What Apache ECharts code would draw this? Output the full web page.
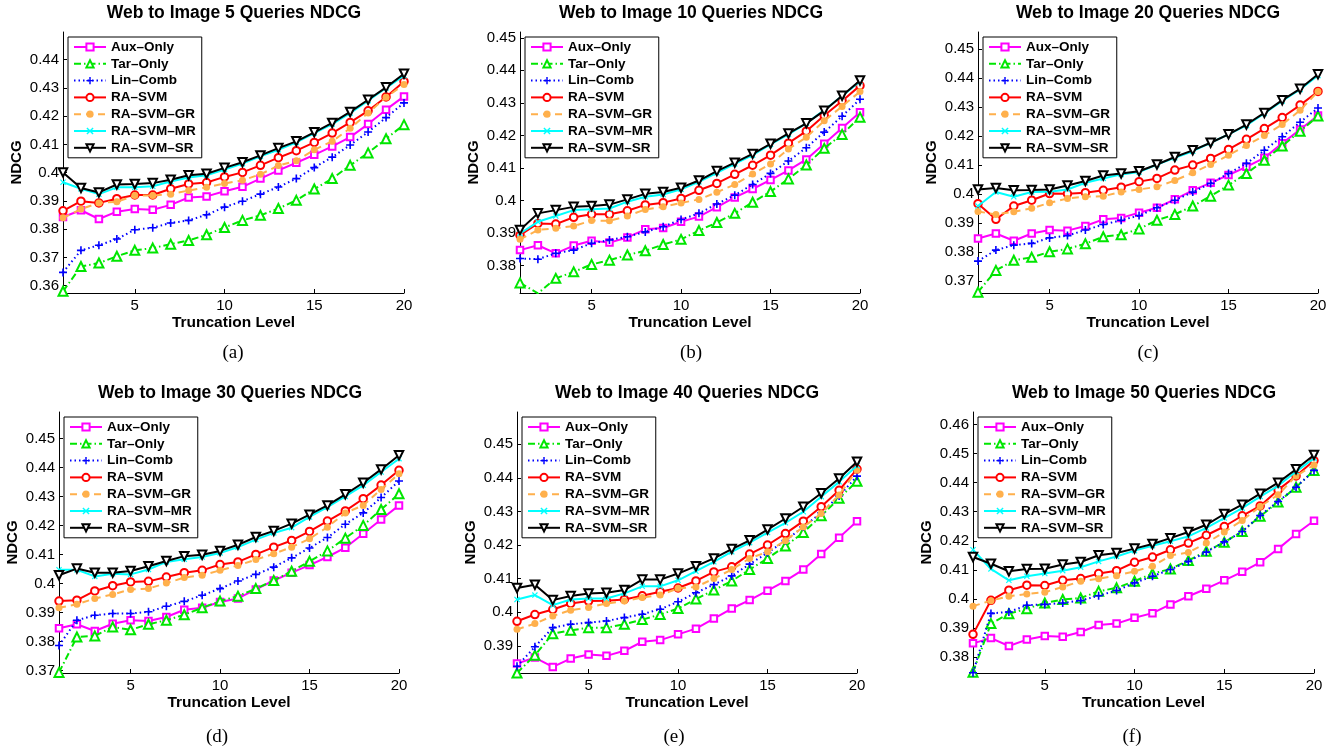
<!DOCTYPE html>
<html>
<head>
<meta charset="utf-8">
<script src="https://cdn.jsdelivr.net/npm/echarts@6/dist/echarts.min.js"></script>
<style>html,body{margin:0;padding:0;background:#fff;}#c{width:1342px;height:754px;}</style>
</head>
<body>
<div id="c"></div>
<script>
// ---------- DATA ----------
const truncation = [1,2,3,4,5,6,7,8,9,10,11,12,13,14,15,16,17,18,19,20];
const seriesNames = ['Aux–Only','Tar–Only','Lin–Comb','RA–SVM','RA–SVM–GR','RA–SVM–MR','RA–SVM–SR'];
const queryCounts = [5,10,20,30,40,50];
const captions = ['(a)','(b)','(c)','(d)','(e)','(f)'];
const xTickValues = [5,10,15,20];
const yTicks_5  = [0.36,0.37,0.38,0.39,0.4,0.41,0.42,0.43,0.44];
const yTicks_10 = [0.38,0.39,0.4,0.41,0.42,0.43,0.44,0.45];
const yTicks_20 = [0.37,0.38,0.39,0.4,0.41,0.42,0.43,0.44,0.45];
const yTicks_30 = [0.37,0.38,0.39,0.4,0.41,0.42,0.43,0.44,0.45];
const yTicks_40 = [0.39,0.4,0.41,0.42,0.43,0.44,0.45];
const yTicks_50 = [0.38,0.39,0.4,0.41,0.42,0.43,0.44,0.45,0.46];
const yRange_5  = [0.3574, 0.4498];
const yRange_10 = [0.3715, 0.4518];
const yRange_20 = [0.3659, 0.4559];
const yRange_30 = [0.3692, 0.4592];
const yRange_40 = [0.3819, 0.4596];
const yRange_50 = [0.3745, 0.4643];

// 5 queries
const q5_aux = [0.3843,0.3867,0.3836,0.3862,0.3871,0.3869,0.3886,0.3912,0.3916,0.3934,0.3950,0.3979,0.4008,0.4035,0.4063,0.4093,0.4126,0.4172,0.4223,0.4270];
const q5_tar = [0.3580,0.3668,0.3680,0.3704,0.3725,0.3733,0.3747,0.3760,0.3780,0.3806,0.3831,0.3849,0.3873,0.3902,0.3942,0.3979,0.4026,0.4070,0.4120,0.4170];
const q5_lin = [0.3647,0.3725,0.3743,0.3765,0.3798,0.3805,0.3822,0.3831,0.3851,0.3878,0.3899,0.3924,0.3949,0.3979,0.4018,0.4055,0.4098,0.4144,0.4195,0.4247];
const q5_ra  = [0.3865,0.3899,0.3893,0.3908,0.3921,0.3921,0.3943,0.3960,0.3965,0.3985,0.4001,0.4026,0.4053,0.4078,0.4107,0.4140,0.4178,0.4219,0.4268,0.4323];
const q5_gr  = [0.3840,0.3871,0.3893,0.3897,0.3919,0.3919,0.3924,0.3937,0.3948,0.3962,0.3973,0.3994,0.4025,0.4042,0.4081,0.4111,0.4157,0.4211,0.4267,0.4312];
const q5_mr  = [0.3966,0.3943,0.3924,0.3948,0.3948,0.3952,0.3969,0.3983,0.3991,0.4011,0.4032,0.4058,0.4081,0.4107,0.4140,0.4172,0.4211,0.4255,0.4300,0.4343];
const q5_sr  = [0.4001,0.3946,0.3930,0.3958,0.3960,0.3963,0.3975,0.3991,0.3996,0.4017,0.4037,0.4061,0.4087,0.4111,0.4143,0.4176,0.4215,0.4258,0.4302,0.4350];
// 10 queries
const q10_aux = [0.3847,0.3862,0.3837,0.3861,0.3876,0.3870,0.3886,0.3911,0.3915,0.3934,0.3950,0.3979,0.4009,0.4035,0.4063,0.4092,0.4126,0.4174,0.4223,0.4271];
const q10_tar = [0.3746,0.3714,0.3760,0.3780,0.3803,0.3816,0.3832,0.3845,0.3864,0.3880,0.3907,0.3932,0.3960,0.3994,0.4027,0.4066,0.4109,0.4160,0.4203,0.4256];
const q10_lin = [0.3821,0.3819,0.3837,0.3847,0.3868,0.3878,0.3888,0.3903,0.3919,0.3941,0.3960,0.3989,0.4016,0.4049,0.4083,0.4121,0.4162,0.4210,0.4259,0.4311];
const q10_ra  = [0.3893,0.3929,0.3927,0.3948,0.3957,0.3957,0.3968,0.3986,0.3993,0.4006,0.4031,0.4052,0.4080,0.4108,0.4139,0.4176,0.4213,0.4261,0.4306,0.4353];
const q10_gr  = [0.3880,0.3909,0.3914,0.3921,0.3938,0.3937,0.3952,0.3972,0.3980,0.3992,0.4003,0.4025,0.4049,0.4081,0.4112,0.4158,0.4194,0.4245,0.4289,0.4335];
const q10_mr  = [0.3898,0.3934,0.3952,0.3970,0.3973,0.3975,0.3996,0.4011,0.4018,0.4034,0.4057,0.4085,0.4112,0.4139,0.4172,0.4203,0.4237,0.4278,0.4321,0.4366];
const q10_sr  = [0.3909,0.3960,0.3970,0.3980,0.3983,0.3987,0.4003,0.4020,0.4026,0.4039,0.4061,0.4090,0.4116,0.4143,0.4174,0.4206,0.4237,0.4276,0.4322,0.4369];
// 20 queries
const q20_aux = [0.3847,0.3864,0.3839,0.3864,0.3876,0.3874,0.3890,0.3913,0.3918,0.3936,0.3953,0.3982,0.4013,0.4039,0.4066,0.4094,0.4125,0.4175,0.4223,0.4271];
const q20_tar = [0.3662,0.3737,0.3772,0.3782,0.3801,0.3811,0.3829,0.3853,0.3860,0.3880,0.3910,0.3930,0.3959,0.3993,0.4031,0.4071,0.4117,0.4166,0.4217,0.4269];
const q20_lin = [0.3769,0.3807,0.3824,0.3830,0.3849,0.3857,0.3876,0.3895,0.3910,0.3926,0.3953,0.3979,0.4007,0.4037,0.4071,0.4106,0.4151,0.4198,0.4248,0.4297];
const q20_ra  = [0.3967,0.3913,0.3959,0.3979,0.4002,0.4001,0.4005,0.4013,0.4024,0.4043,0.4054,0.4083,0.4100,0.4123,0.4154,0.4189,0.4226,0.4264,0.4307,0.4354];
const q20_gr  = [0.3940,0.3930,0.3939,0.3951,0.3970,0.3985,0.3991,0.3993,0.4007,0.4016,0.4025,0.4047,0.4074,0.4102,0.4134,0.4168,0.4202,0.4240,0.4289,0.4354];
const q20_mr  = [0.3959,0.4007,0.3991,0.4007,0.4008,0.4016,0.4039,0.4054,0.4068,0.4076,0.4102,0.4125,0.4148,0.4177,0.4206,0.4237,0.4278,0.4321,0.4361,0.4409];
const q20_sr  = [0.4016,0.4021,0.4013,0.4014,0.4016,0.4030,0.4045,0.4064,0.4071,0.4079,0.4102,0.4128,0.4151,0.4177,0.4206,0.4240,0.4280,0.4324,0.4363,0.4413];
// 30 queries
const q30_aux = [0.3846,0.3860,0.3837,0.3862,0.3874,0.3871,0.3885,0.3910,0.3917,0.3937,0.3949,0.3980,0.4011,0.4038,0.4064,0.4092,0.4124,0.4172,0.4221,0.4270];
const q30_tar = [0.3694,0.3816,0.3820,0.3851,0.3841,0.3860,0.3874,0.3893,0.3917,0.3940,0.3957,0.3983,0.4011,0.4043,0.4077,0.4113,0.4157,0.4201,0.4256,0.4310];
const q30_lin = [0.3787,0.3874,0.3891,0.3897,0.3897,0.3903,0.3922,0.3939,0.3960,0.3983,0.4009,0.4032,0.4057,0.4089,0.4123,0.4159,0.4205,0.4244,0.4297,0.4354];
const q30_ra  = [0.3940,0.3943,0.3975,0.3993,0.4006,0.4008,0.4023,0.4038,0.4046,0.4066,0.4075,0.4101,0.4126,0.4149,0.4180,0.4216,0.4251,0.4293,0.4340,0.4391];
const q30_gr  = [0.3917,0.3929,0.3949,0.3963,0.3980,0.3983,0.4002,0.4021,0.4029,0.4046,0.4063,0.4083,0.4103,0.4126,0.4155,0.4195,0.4244,0.4270,0.4325,0.4379];
const q30_mr  = [0.4048,0.4048,0.4025,0.4034,0.4032,0.4049,0.4075,0.4084,0.4092,0.4106,0.4126,0.4152,0.4175,0.4193,0.4230,0.4264,0.4301,0.4339,0.4385,0.4431];
const q30_sr  = [0.4029,0.4052,0.4038,0.4038,0.4044,0.4060,0.4078,0.4095,0.4100,0.4113,0.4134,0.4161,0.4182,0.4207,0.4238,0.4270,0.4308,0.4348,0.4394,0.4443];
// 40 queries
const q40_aux = [0.3847,0.3865,0.3837,0.3862,0.3874,0.3870,0.3885,0.3912,0.3917,0.3934,0.3951,0.3981,0.4011,0.4036,0.4064,0.4093,0.4127,0.4173,0.4222,0.4271];
const q40_tar = [0.3819,0.3872,0.3936,0.3946,0.3954,0.3954,0.3964,0.3978,0.3993,0.4011,0.4039,0.4066,0.4093,0.4127,0.4160,0.4197,0.4237,0.4287,0.4339,0.4390];
const q40_lin = [0.3839,0.3897,0.3954,0.3964,0.3969,0.3974,0.3984,0.3994,0.4009,0.4031,0.4058,0.4082,0.4108,0.4143,0.4177,0.4213,0.4254,0.4296,0.4346,0.4405];
const q40_ra  = [0.3973,0.3993,0.4008,0.4026,0.4033,0.4034,0.4038,0.4049,0.4061,0.4072,0.4093,0.4120,0.4135,0.4173,0.4200,0.4234,0.4271,0.4314,0.4363,0.4426];
const q40_gr  = [0.3949,0.3966,0.3989,0.4006,0.4014,0.4026,0.4033,0.4044,0.4051,0.4071,0.4075,0.4100,0.4127,0.4160,0.4180,0.4213,0.4254,0.4294,0.4349,0.4423];
const q40_mr  = [0.4038,0.4051,0.4021,0.4038,0.4041,0.4041,0.4056,0.4077,0.4077,0.4095,0.4122,0.4150,0.4180,0.4207,0.4237,0.4266,0.4299,0.4344,0.4388,0.4436];
const q40_sr  = [0.4072,0.4082,0.4036,0.4048,0.4056,0.4058,0.4066,0.4097,0.4097,0.4115,0.4137,0.4160,0.4188,0.4214,0.4246,0.4279,0.4314,0.4354,0.4398,0.4448];
// 50 queries
const q50_aux = [0.3847,0.3865,0.3838,0.3860,0.3872,0.3870,0.3886,0.3910,0.3915,0.3935,0.3951,0.3981,0.4009,0.4035,0.4064,0.4093,0.4126,0.4172,0.4223,0.4269];
const q50_tar = [0.3748,0.3915,0.3949,0.3966,0.3986,0.3998,0.4003,0.4026,0.4038,0.4061,0.4087,0.4103,0.4132,0.4164,0.4195,0.4232,0.4284,0.4333,0.4384,0.4442];
const q50_lin = [0.3746,0.3950,0.3955,0.3978,0.3981,0.3986,0.3994,0.4011,0.4029,0.4055,0.4078,0.4101,0.4129,0.4161,0.4196,0.4232,0.4287,0.4335,0.4384,0.4442];
const q50_ra  = [0.3878,0.3995,0.4030,0.4047,0.4046,0.4064,0.4070,0.4087,0.4097,0.4126,0.4144,0.4169,0.4192,0.4219,0.4249,0.4286,0.4320,0.4375,0.4423,0.4476];
const q50_gr  = [0.3975,0.3994,0.4009,0.4017,0.4023,0.4041,0.4061,0.4069,0.4080,0.4095,0.4112,0.4149,0.4160,0.4192,0.4230,0.4270,0.4318,0.4358,0.4423,0.4461];
const q50_mr  = [0.4169,0.4103,0.4064,0.4078,0.4087,0.4097,0.4109,0.4129,0.4146,0.4166,0.4183,0.4198,0.4215,0.4244,0.4278,0.4312,0.4352,0.4389,0.4438,0.4484];
const q50_sr  = [0.4144,0.4121,0.4095,0.4103,0.4104,0.4118,0.4127,0.4150,0.4158,0.4173,0.4189,0.4209,0.4230,0.4255,0.4292,0.4324,0.4362,0.4400,0.4446,0.4495];

// ---------- ASSEMBLY ----------
const panelSeries = [
  [q5_aux,q5_tar,q5_lin,q5_ra,q5_gr,q5_mr,q5_sr],
  [q10_aux,q10_tar,q10_lin,q10_ra,q10_gr,q10_mr,q10_sr],
  [q20_aux,q20_tar,q20_lin,q20_ra,q20_gr,q20_mr,q20_sr],
  [q30_aux,q30_tar,q30_lin,q30_ra,q30_gr,q30_mr,q30_sr],
  [q40_aux,q40_tar,q40_lin,q40_ra,q40_gr,q40_mr,q40_sr],
  [q50_aux,q50_tar,q50_lin,q50_ra,q50_gr,q50_mr,q50_sr]
];
const panelYTicks = [yTicks_5,yTicks_10,yTicks_20,yTicks_30,yTicks_40,yTicks_50];
const panelYRange = [yRange_5,yRange_10,yRange_20,yRange_30,yRange_40,yRange_50];

// layout
const grids = [
  {left:63, top:32, width:341, height:261},
  {left:520, top:32, width:340, height:261},
  {left:978, top:32, width:340, height:261},
  {left:59, top:412, width:340, height:261},
  {left:517, top:412, width:340, height:261},
  {left:973, top:412, width:341, height:261}
];
const titlePos = [[234,13],[691,13],[1148,13],[230,393],[687,393],[1144,393]];
const capPos = [[233,353],[691,353],[1148,353],[217,737],[674,737],[1132,737]];

const FONT = '"Liberation Sans", Arial, Helvetica, sans-serif';
const PLUS = 'path://M0,4H10V6H0Z M4,0H6V10H4Z';
const XMARK = 'path://M0,1.4L1.4,0L5,3.6L8.6,0L10,1.4L6.4,5L10,8.6L8.6,10L5,6.4L1.4,10L0,8.6L3.6,5Z';
const styles = [
  {color:'#ff00ff', type:'solid', symbol:'emptyRect', size:6.5, rotate:0, bw:1.5},
  {color:'#00e600', type:[7,3,1.5,3], symbol:'emptyTriangle', size:9, rotate:0, bw:1.5},
  {color:'#0000ff', type:[1.5,3], symbol:PLUS, size:8, rotate:0, bw:0},
  {color:'#ff0000', type:'solid', symbol:'emptyCircle', size:7.5, rotate:0, bw:1.5},
  {color:'#ffb04c', type:[7,5], symbol:'circle', size:7, rotate:0, bw:0},
  {color:'#00ffff', type:'solid', symbol:XMARK, size:6, rotate:0, bw:0},
  {color:'#000000', type:'solid', symbol:'emptyTriangle', size:8.5, rotate:180, bw:1.5}
];

const option = {
  animation:false,
  backgroundColor:'#fff',
  grid:[], xAxis:[], yAxis:[], series:[], legend:[], graphic:[]
};

grids.forEach((g,i)=>{
  option.grid.push(Object.assign({containLabel:false}, g));
  option.xAxis.push({
    type:'value', gridIndex:i, min:1, max:20,
    name:'Truncation Level', nameLocation:'middle', nameGap:22,
    nameTextStyle:{fontFamily:FONT, fontSize:15.5, fontWeight:'bold', color:'#000'},
    axisLine:{show:true, onZero:false, lineStyle:{color:'#000', width:1}},
    axisTick:{show:true, inside:true, length:4, customValues:xTickValues, lineStyle:{color:'#000'}},
    axisLabel:{show:true, margin:5, fontFamily:FONT, fontSize:15, color:'#000', customValues:xTickValues},
    splitLine:{show:false}
  });
  option.yAxis.push({
    type:'value', gridIndex:i, min:panelYRange[i][0], max:panelYRange[i][1],
    name:'NDCG', nameLocation:'middle', nameGap:39, nameRotate:90,
    nameTextStyle:{fontFamily:FONT, fontSize:15, fontWeight:'bold', color:'#000'},
    axisLine:{show:true, onZero:false, lineStyle:{color:'#000', width:1}},
    axisTick:{show:true, inside:true, length:4, customValues:panelYTicks[i], lineStyle:{color:'#000'}},
    axisLabel:{show:true, margin:4, fontFamily:FONT, fontSize:15, color:'#000', customValues:panelYTicks[i],
      formatter:(v)=>String(Math.round(v*100)/100)},
    splitLine:{show:false}
  });
  panelSeries[i].forEach((vals,k)=>{
    const s = styles[k];
    option.series.push({
      type:'line', name:seriesNames[k], xAxisIndex:i, yAxisIndex:i,
      data: truncation.map((t,j)=>[t, vals[j]]),
      symbol:s.symbol, symbolSize:s.size, symbolRotate:s.rotate, showAllSymbol:true,
      lineStyle:{color:s.color, width:2, type:s.type},
      itemStyle:{color:s.color, borderColor:s.color, borderWidth:s.bw},
      z: 2 + k
    });
  });
  option.legend.push({
    orient:'vertical', left:g.left+5, top:g.top+5,
    data:seriesNames,
    backgroundColor:'#fff', borderColor:'#000', borderWidth:1,
    padding:[2,6,2,5], itemWidth:32, itemHeight:9, itemGap:0.8,
    textStyle:{fontFamily:FONT, fontSize:13.5, fontWeight:'bold', color:'#000', lineHeight:16},
    selectedMode:false
  });
  option.graphic.push({
    type:'text', x:titlePos[i][0], y:titlePos[i][1], silent:true,
    style:{text:'Web to Image ' + queryCounts[i] + ' Queries NDCG', textAlign:'center', textVerticalAlign:'middle',
      font:'bold 17.5px ' + FONT, fill:'#000'}
  });
  option.graphic.push({
    type:'text', x:capPos[i][0], y:capPos[i][1], silent:true,
    style:{text:captions[i], textAlign:'center', textVerticalAlign:'middle',
      font:'19px "Liberation Serif", "DejaVu Serif", serif', fill:'#000'}
  });
});

const chart = echarts.init(document.getElementById('c'), null, {renderer:'canvas'});
chart.setOption(option);
</script>
</body>
</html>
